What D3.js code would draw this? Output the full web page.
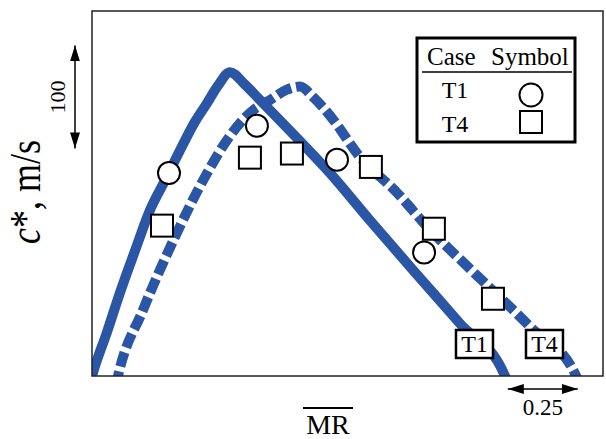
<!DOCTYPE html>
<html><head><meta charset="utf-8">
<script src="https://cdn.jsdelivr.net/npm/d3@7"></script>
<style>body{margin:0;background:#fff}svg{display:block}</style>
</head><body>
<svg id="c" width="606" height="439"></svg>
<script>
// MR (x) vs c* in m/s (y)
const t1CurveX = [-0.01,0,0.054,0.1,0.154,0.207,0.261,0.314,0.368,0.411,0.45,0.493,0.546,0.6,0.725,0.85,0.993,1.146,1.314,1.475,1.49];
const t1CurveY = [-10,0,43,81,122,161,190,219,247,265,282,295,283,268,233,197,151,103,51,0,-10];
const t4CurveX = [0.085,0.093,0.182,0.286,0.411,0.482,0.575,0.636,0.696,0.743,0.789,0.861,0.95,1.089,1.207,1.35,1.564,1.729,1.745];
const t4CurveY = [-10,0,64,129,197,229,258,268,278,281,271,249,215,178,142,104,48,0,-10];
const t1PointsX = [0.275,0.589,0.875,1.186];
const t1PointsY = [197,243,210,120];
const t4PointsX = [0.25,0.564,0.714,0.996,1.221,1.432];
const t4PointsY = [146,212,216,203,143,75];
const cases = ["T1","T4"];
const caseLabelX = [1.366,1.616];
const scaleBarX = 0.25;
const scaleBarY = 100;

const svg = d3.select("#c");
const L=92, T=11, R=603, B=376;
const x = d3.scaleLinear().domain([0, 1.825]).range([L, R]);
const y = d3.scaleLinear().domain([0, 354.4]).range([B, T]);
const blue = "#2a56a5";
const serif = "Liberation Serif, Times New Roman, serif";

svg.append("clipPath").attr("id","clip").append("rect")
  .attr("x",L).attr("y",T).attr("width",R-L).attr("height",B-T);

const line = d3.line().x(d=>x(d[0])).y(d=>y(d[1])).curve(d3.curveMonotoneX);
const g = svg.append("g").attr("clip-path","url(#clip)");
g.append("path").datum(t1CurveX.map((v,i)=>[v,t1CurveY[i]]))
  .attr("d",line).attr("fill","none").attr("stroke",blue).attr("stroke-width",10)
  .attr("stroke-linejoin","round");
g.append("path").datum(t4CurveX.map((v,i)=>[v,t4CurveY[i]]))
  .attr("d",line).attr("fill","none").attr("stroke",blue).attr("stroke-width",10)
  .attr("stroke-dasharray","15,5").attr("stroke-linejoin","round");

// frame
svg.append("rect").attr("x",L).attr("y",T).attr("width",R-L).attr("height",B-T)
  .attr("fill","none").attr("stroke","#222").attr("stroke-width",1.5);

// markers
svg.selectAll(".c1").data(t1PointsX).enter().append("circle")
  .attr("cx",d=>x(d)).attr("cy",(d,i)=>y(t1PointsY[i])).attr("r",11)
  .attr("fill","#fff").attr("stroke","#000").attr("stroke-width",2);
svg.selectAll(".s4").data(t4PointsX).enter().append("rect")
  .attr("x",d=>x(d)-11).attr("y",(d,i)=>y(t4PointsY[i])-11).attr("width",22).attr("height",22)
  .attr("fill","#fff").attr("stroke","#000").attr("stroke-width",2);

// curve labels
cases.forEach((t,i)=>{
  const cx = x(caseLabelX[i]);
  svg.append("rect").attr("x",cx-18.5).attr("y",330).attr("width",37).attr("height",28)
    .attr("fill","#fff").attr("stroke","#000").attr("stroke-width",2.5);
  svg.append("text").attr("x",cx).attr("y",352).attr("text-anchor","middle")
    .attr("font-family",serif).attr("font-size",24).text(t);
});

// legend
svg.append("rect").attr("x",417).attr("y",38).attr("width",158).attr("height",104)
  .attr("fill","#fff").attr("stroke","#000").attr("stroke-width",3);
svg.append("text").attr("x",427).attr("y",65).attr("font-family",serif).attr("font-size",25).text("Case");
svg.append("text").attr("x",491).attr("y",65).attr("font-family",serif).attr("font-size",25).text("Symbol");
svg.append("line").attr("x1",422).attr("x2",572).attr("y1",72).attr("y2",72).attr("stroke","#000").attr("stroke-width",1.5);
svg.append("text").attr("x",455).attr("y",98).attr("text-anchor","middle").attr("font-family",serif).attr("font-size",24).text(cases[0]);
svg.append("text").attr("x",455).attr("y",132).attr("text-anchor","middle").attr("font-family",serif).attr("font-size",24).text(cases[1]);
svg.append("circle").attr("cx",531).attr("cy",95).attr("r",11.5).attr("fill","#fff").attr("stroke","#000").attr("stroke-width",2);
svg.append("rect").attr("x",520).attr("y",111).attr("width",22).attr("height",22).attr("fill","#fff").attr("stroke","#000").attr("stroke-width",2);

// arrowheads
const defs = svg.append("defs");
defs.append("marker").attr("id","ah").attr("viewBox","0 0 16 10").attr("refX",16).attr("refY",5)
  .attr("markerWidth",16).attr("markerHeight",10).attr("markerUnits","userSpaceOnUse").attr("orient","auto-start-reverse")
  .append("path").attr("d","M0,0L16,5L0,10Z").attr("fill","#000");

// y scale bar (100 m/s)
svg.append("line").attr("x1",75).attr("x2",75).attr("y1",y(321)).attr("y2",y(321-scaleBarY))
  .attr("stroke","#000").attr("stroke-width",1.5)
  .attr("marker-start","url(#ah)").attr("marker-end","url(#ah)");
svg.append("text").attr("transform",`translate(65,${(y(321)+y(321-scaleBarY))/2}) rotate(-90)`)
  .attr("text-anchor","middle").attr("font-family",serif).attr("font-size",22).text(String(scaleBarY));

// x scale bar (0.25)
svg.append("line").attr("x1",x(1.485)).attr("x2",x(1.485+scaleBarX)).attr("y1",389).attr("y2",389)
  .attr("stroke","#000").attr("stroke-width",1.5)
  .attr("marker-start","url(#ah)").attr("marker-end","url(#ah)");
svg.append("text").attr("x",x(1.485+scaleBarX/2)).attr("y",415).attr("text-anchor","middle")
  .attr("font-family",serif).attr("font-size",23).text(String(scaleBarX));

// axis titles
const yt = svg.append("text").attr("transform","translate(40,192) rotate(-90) scale(0.82,1)")
  .attr("text-anchor","middle").attr("font-family",serif).attr("font-size",44);
yt.append("tspan").attr("font-style","italic").text("c");
yt.append("tspan").text("*, m/s");

svg.append("text").attr("x",328).attr("y",434).attr("text-anchor","middle")
  .attr("font-family",serif).attr("font-size",28).text("MR");
svg.append("line").attr("x1",303).attr("x2",353).attr("y1",408).attr("y2",408).attr("stroke","#000").attr("stroke-width",2);
</script>
</body></html>
